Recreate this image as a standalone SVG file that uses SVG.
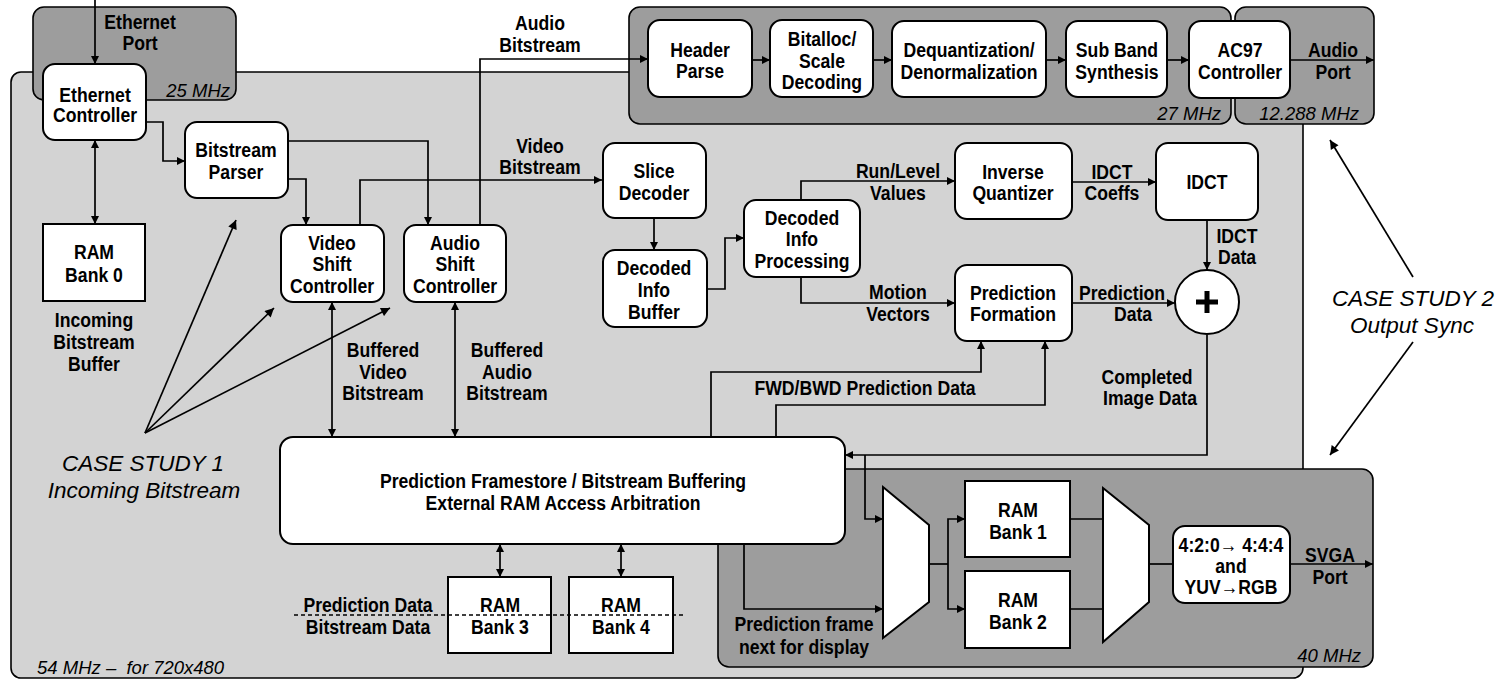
<svg xmlns="http://www.w3.org/2000/svg" width="1506" height="681" viewBox="0 0 1506 681">
  <style>
    .region { fill: #d3d3d3; stroke: #000; stroke-width: 1.6; }
    .domain { fill: #9d9d9d; stroke: #000; stroke-width: 1.6; }
    .box { fill: #fff; stroke: #000; stroke-width: 2; }
    .wire { fill: none; stroke: #000; stroke-width: 1.7; }
    .note { fill: none; stroke: #000; stroke-width: 1.7; }
    .b { font-family: "Liberation Sans", Arial, Helvetica, sans-serif; font-weight: bold; font-size: 20.5px; text-anchor: middle; fill: #000;
         transform-box: fill-box; transform-origin: center; transform: scaleX(0.86); }
    .clk { font-family: "Liberation Sans", Arial, Helvetica, sans-serif; font-style: italic; font-size: 18.5px; fill: #000; }
    .cs { font-family: "Liberation Sans", Arial, Helvetica, sans-serif; font-style: italic; font-size: 22.5px; text-anchor: middle; fill: #000; }
  </style>
  <defs>
    <marker id="ah" viewBox="0 0 10 10" refX="10" refY="5" markerWidth="9" markerHeight="8" markerUnits="userSpaceOnUse" orient="auto-start-reverse">
      <path d="M0,0 L10,5 L0,10 Z" fill="#000"/>
    </marker>
    <marker id="ahBig" viewBox="0 0 10 10" refX="10" refY="5" markerWidth="12" markerHeight="9" markerUnits="userSpaceOnUse" orient="auto">
      <path d="M0,0 L10,5 L0,10 Z" fill="#000"/>
    </marker>
  </defs>

  <!-- 54 MHz core clock domain -->
  <g id="domain-54mhz">
    <rect class="region" x="11" y="72" width="1292" height="606" rx="10"/>
    <text class="clk" x="37" y="674">54 MHz –&#160; for 720x480</text>
  </g>

  <!-- Ethernet clock domain -->
  <g id="domain-25mhz">
    <rect class="domain" x="33" y="7" width="203" height="93" rx="11"/>
    <text class="b" x="140" y="29">Ethernet</text>
    <text class="b" x="140" y="50">Port</text>
    <text class="clk" x="230" y="97" text-anchor="end">25 MHz</text>
  </g>

  <!-- Audio decode clock domain -->
  <g id="domain-27mhz">
    <rect class="domain" x="629" y="7" width="602" height="117" rx="11"/>
    <text class="clk" x="1221" y="120" text-anchor="end">27 MHz</text>
  </g>
  <g id="domain-12mhz">
    <rect class="domain" x="1235" y="7" width="139" height="117" rx="11"/>
    <text class="b" x="1333" y="57">Audio</text>
    <text class="b" x="1333" y="79">Port</text>
    <text class="clk" x="1359" y="120" text-anchor="end">12.288 MHz</text>
  </g>

  <!-- Display clock domain -->
  <g id="domain-40mhz">
    <rect class="domain" x="718" y="469" width="655" height="198" rx="11"/>
    <text class="clk" x="1361" y="662" text-anchor="end">40 MHz</text>
  </g>

  <!-- Connectors -->
  <g id="connectors">
    <path class="wire" d="M95,0 V64" marker-end="url(#ah)"/>
    <path class="wire" d="M146,122 H163 V161 H185" marker-end="url(#ah)"/>
    <path class="wire" d="M95,140 V224" marker-start="url(#ah)" marker-end="url(#ah)"/>
    <path class="wire" d="M288,179 H306 V225" marker-end="url(#ah)"/>
    <path class="wire" d="M288,141 H428 V225" marker-end="url(#ah)"/>
    <path class="wire" d="M360,225 V180 H602" marker-end="url(#ah)"/>
    <path class="wire" d="M480,225 V59 H648" marker-end="url(#ah)"/>

    <path class="wire" d="M752,60 H770" marker-end="url(#ah)"/>
    <path class="wire" d="M873,60 H892" marker-end="url(#ah)"/>
    <path class="wire" d="M1046,60 H1066" marker-end="url(#ah)"/>
    <path class="wire" d="M1167,60 H1189" marker-end="url(#ah)"/>
    <path class="wire" d="M1290,60 H1374" marker-end="url(#ah)"/>

    <path class="wire" d="M654,218 V250" marker-end="url(#ah)"/>
    <path class="wire" d="M707,289 H725 V238 H744" marker-end="url(#ah)"/>
    <path class="wire" d="M801,200 V181 H955" marker-end="url(#ah)"/>
    <path class="wire" d="M801,277 V303 H955" marker-end="url(#ah)"/>
    <path class="wire" d="M1072,182 H1156" marker-end="url(#ah)"/>
    <path class="wire" d="M1207,220 V270" marker-end="url(#ah)"/>
    <path class="wire" d="M1072,303 H1175" marker-end="url(#ah)"/>
    <path class="wire" d="M1207,335 V455 H845" marker-end="url(#ah)"/>
    <path class="wire" d="M865,455 V519 H883" marker-end="url(#ah)"/>
    <path class="wire" d="M711,437 V372 H981 V341" marker-end="url(#ah)"/>
    <path class="wire" d="M776,437 V405 H1045 V341" marker-end="url(#ah)"/>

    <path class="wire" d="M332,302 V437" marker-start="url(#ah)" marker-end="url(#ah)"/>
    <path class="wire" d="M455,302 V437" marker-start="url(#ah)" marker-end="url(#ah)"/>
    <path class="wire" d="M500,544 V577" marker-start="url(#ah)" marker-end="url(#ah)"/>
    <path class="wire" d="M621,544 V577" marker-start="url(#ah)" marker-end="url(#ah)"/>

    <path class="wire" d="M744,544 V609 H883" marker-end="url(#ah)"/>
    <path class="wire" d="M929,564 H948"/>
    <path class="wire" d="M948,564 V519 H965" marker-end="url(#ah)"/>
    <path class="wire" d="M948,564 V609 H965" marker-end="url(#ah)"/>
    <path class="wire" d="M1070,519 H1103"/>
    <path class="wire" d="M1070,609 H1103"/>
    <path class="wire" d="M1149,564 H1173"/>
    <path class="wire" d="M1290,564 H1373" marker-end="url(#ah)"/>

    <!-- case study pointers -->
    <path class="note" d="M145,433 L236,220" marker-end="url(#ahBig)"/>
    <path class="note" d="M145,433 L274,308" marker-end="url(#ahBig)"/>
    <path class="note" d="M145,433 L390,308" marker-end="url(#ahBig)"/>
    <path class="note" d="M1413,277 L1330,140" marker-end="url(#ahBig)"/>
    <path class="note" d="M1413,342 L1330,455" marker-end="url(#ahBig)"/>
  </g>

  <!-- Labels on connectors -->
  <g id="connector-labels">
    <text class="b" x="540" y="30">Audio</text>
    <text class="b" x="540" y="52">Bitstream</text>
    <text class="b" x="540" y="153">Video</text>
    <text class="b" x="540" y="174">Bitstream</text>
    <text class="b" x="94" y="327">Incoming</text>
    <text class="b" x="94" y="349">Bitstream</text>
    <text class="b" x="94" y="371">Buffer</text>
    <text class="b" x="383" y="357">Buffered</text>
    <text class="b" x="383" y="379">Video</text>
    <text class="b" x="383" y="400">Bitstream</text>
    <text class="b" x="507" y="357">Buffered</text>
    <text class="b" x="507" y="379">Audio</text>
    <text class="b" x="507" y="400">Bitstream</text>
    <text class="b" x="898" y="178">Run/Level</text>
    <text class="b" x="898" y="200">Values</text>
    <text class="b" x="898" y="299">Motion</text>
    <text class="b" x="898" y="321">Vectors</text>
    <text class="b" x="1112" y="179">IDCT</text>
    <text class="b" x="1112" y="200">Coeffs</text>
    <text class="b" x="1237" y="243">IDCT</text>
    <text class="b" x="1237" y="264">Data</text>
    <text class="b" x="1122" y="300">Prediction</text>
    <text class="b" x="1133" y="321">Data</text>
    <text class="b" x="1147" y="384">Completed</text>
    <text class="b" x="1150" y="405">Image Data</text>
    <text class="b" x="865" y="395">FWD/BWD Prediction Data</text>
    <text class="b" x="368" y="612">Prediction Data</text>
    <text class="b" x="368" y="634">Bitstream Data</text>
    <text class="b" x="804" y="631">Prediction frame</text>
    <text class="b" x="804" y="654">next for display</text>
    <text class="b" x="1330" y="562">SVGA</text>
    <text class="b" x="1330" y="584">Port</text>
    <text class="cs" x="143" y="471">CASE STUDY 1</text>
    <text class="cs" x="144" y="498">Incoming Bitstream</text>
    <text class="cs" x="1413" y="306">CASE STUDY 2</text>
    <text class="cs" x="1412" y="333">Output Sync</text>
  </g>

  <!-- Nodes -->
  <g id="ethernet-controller">
    <rect class="box" x="43" y="64" width="103" height="76" rx="12"/>
    <text class="b" x="95" y="102">Ethernet</text>
    <text class="b" x="95" y="122">Controller</text>
  </g>
  <g id="bitstream-parser">
    <rect class="box" x="185" y="122" width="103" height="76" rx="12"/>
    <text class="b" x="236" y="157">Bitstream</text>
    <text class="b" x="236" y="179">Parser</text>
  </g>
  <g id="ram-bank-0">
    <rect class="box" x="43" y="224" width="102" height="77"/>
    <text class="b" x="94" y="259">RAM</text>
    <text class="b" x="94" y="282">Bank 0</text>
  </g>
  <g id="video-shift-controller">
    <rect class="box" x="281" y="225" width="103" height="77" rx="12"/>
    <text class="b" x="332" y="250">Video</text>
    <text class="b" x="332" y="271">Shift</text>
    <text class="b" x="332" y="293">Controller</text>
  </g>
  <g id="audio-shift-controller">
    <rect class="box" x="404" y="225" width="102" height="77" rx="12"/>
    <text class="b" x="455" y="250">Audio</text>
    <text class="b" x="455" y="271">Shift</text>
    <text class="b" x="455" y="293">Controller</text>
  </g>
  <g id="header-parse">
    <rect class="box" x="648" y="20" width="104" height="77" rx="12"/>
    <text class="b" x="700" y="57">Header</text>
    <text class="b" x="700" y="78">Parse</text>
  </g>
  <g id="bitalloc-scale-decoding">
    <rect class="box" x="770" y="20" width="103" height="77" rx="12"/>
    <text class="b" x="822" y="46">Bitalloc/</text>
    <text class="b" x="822" y="68">Scale</text>
    <text class="b" x="822" y="89">Decoding</text>
  </g>
  <g id="dequantization">
    <rect class="box" x="892" y="21" width="154" height="76" rx="12"/>
    <text class="b" x="969" y="57">Dequantization/</text>
    <text class="b" x="969" y="79">Denormalization</text>
  </g>
  <g id="sub-band-synthesis">
    <rect class="box" x="1066" y="21" width="101" height="76" rx="12"/>
    <text class="b" x="1117" y="57">Sub Band</text>
    <text class="b" x="1117" y="79">Synthesis</text>
  </g>
  <g id="ac97-controller">
    <rect class="box" x="1189" y="21" width="101" height="77" rx="12"/>
    <text class="b" x="1240" y="57">AC97</text>
    <text class="b" x="1240" y="79">Controller</text>
  </g>
  <g id="slice-decoder">
    <rect class="box" x="603" y="143" width="103" height="75" rx="12"/>
    <text class="b" x="654" y="178">Slice</text>
    <text class="b" x="654" y="200">Decoder</text>
  </g>
  <g id="decoded-info-buffer">
    <rect class="box" x="603" y="250" width="104" height="77" rx="12"/>
    <text class="b" x="654" y="275">Decoded</text>
    <text class="b" x="654" y="297">Info</text>
    <text class="b" x="654" y="319">Buffer</text>
  </g>
  <g id="decoded-info-processing">
    <rect class="box" x="744" y="200" width="116" height="77" rx="12"/>
    <text class="b" x="802" y="225">Decoded</text>
    <text class="b" x="802" y="246">Info</text>
    <text class="b" x="802" y="268">Processing</text>
  </g>
  <g id="inverse-quantizer">
    <rect class="box" x="955" y="143" width="117" height="76" rx="12"/>
    <text class="b" x="1013" y="179">Inverse</text>
    <text class="b" x="1013" y="200">Quantizer</text>
  </g>
  <g id="idct">
    <rect class="box" x="1156" y="143" width="102" height="77" rx="12"/>
    <text class="b" x="1207" y="189">IDCT</text>
  </g>
  <g id="prediction-formation">
    <rect class="box" x="955" y="265" width="117" height="76" rx="12"/>
    <text class="b" x="1013" y="300">Prediction</text>
    <text class="b" x="1013" y="321">Formation</text>
  </g>
  <g id="adder">
    <circle class="box" cx="1207" cy="302" r="32"/>
    <path d="M1207,291 V313 M1196,302 H1218" stroke="#000" stroke-width="5" fill="none"/>
  </g>
  <g id="framestore-arbitration">
    <rect class="box" x="280" y="437" width="565" height="107" rx="13"/>
    <text class="b" x="563" y="488">Prediction Framestore / Bitstream Buffering</text>
    <text class="b" x="563" y="510">External RAM Access Arbitration</text>
  </g>
  <g id="ram-bank-3">
    <rect class="box" x="448" y="577" width="103" height="76"/>
    <text class="b" x="500" y="612">RAM</text>
    <text class="b" x="500" y="634">Bank 3</text>
  </g>
  <g id="ram-bank-4">
    <rect class="box" x="569" y="577" width="104" height="76"/>
    <text class="b" x="621" y="612">RAM</text>
    <text class="b" x="621" y="634">Bank 4</text>
  </g>
  <!-- split between prediction and bitstream data, drawn across banks 3 and 4 -->
  <path id="bank-split" d="M294,615 H686" fill="none" stroke="#000" stroke-width="1.4" stroke-dasharray="4,3"/>
  <g id="write-mux">
    <path class="box" d="M883,487 L929,525 L929,602 L883,638 Z"/>
  </g>
  <g id="ram-bank-1">
    <rect class="box" x="965" y="481" width="105" height="76"/>
    <text class="b" x="1018" y="517">RAM</text>
    <text class="b" x="1018" y="539">Bank 1</text>
  </g>
  <g id="ram-bank-2">
    <rect class="box" x="965" y="571" width="105" height="77"/>
    <text class="b" x="1018" y="607">RAM</text>
    <text class="b" x="1018" y="629">Bank 2</text>
  </g>
  <g id="read-mux">
    <path class="box" d="M1103,488 L1149,525 L1149,602 L1103,642 Z"/>
  </g>
  <g id="colour-converter">
    <rect class="box" x="1173" y="526" width="117" height="77" rx="12"/>
    <text class="b" x="1231" y="552">4:2:0→ 4:4:4</text>
    <text class="b" x="1231" y="573">and</text>
    <text class="b" x="1231" y="594">YUV→RGB</text>
  </g>
</svg>
